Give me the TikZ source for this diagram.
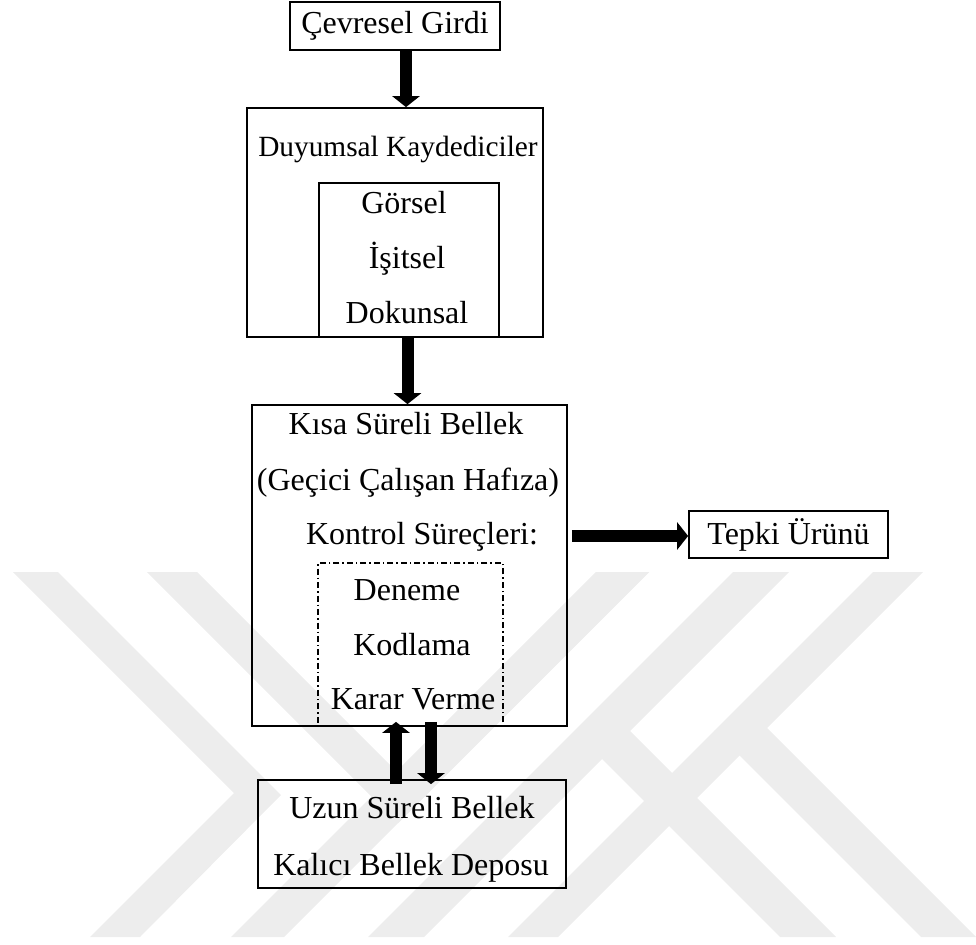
\documentclass[tikz,border=0pt]{standalone}
\usepackage{fontspec}
\setmainfont{Liberation Serif}
\usetikzlibrary{arrows.meta,calc}
\definecolor{filigran}{RGB}{237,237,237}
\tikzset{
  kutu/.style={draw,line width=1.3pt,inner sep=0pt,font=\fontsize{24}{28}\selectfont},
  yazi/.style={anchor=base,inner sep=0.75pt,font=\fontsize{24}{28}\selectfont},
  kalinok/.style={line width=9pt,-{Triangle[width=20.25pt,length=8.25pt]}},
  noktacizgi/.style={draw,line width=0.9pt,inner sep=0pt,dash pattern=on 4.5pt off 2.25pt on 1.1pt off 2.25pt},
}

\begin{document}
\begin{tikzpicture}[x=0.75pt,y=0.75pt,yscale=-1,xscale=1]
		%set diagram left start at 0, and has height of 945
		\useasboundingbox (0,0) rectangle (976,945);
		
		%Watermark
		\begin{scope}
			\clip (0,572) rectangle (976,937);
			\fill[filigran] (13,572) -- (58,572) -- (281,795) -- (140,937) -- (90,937) -- (234,793) -- cycle;
			\fill[filigran] (147,572) -- (197,572) -- (396.5,771.5) -- (596,572) -- (649,572) -- (398,823) -- cycle;
			\fill[filigran] (596,572) -- (649,572) -- (284,937) -- (231,937) -- cycle;
			\fill[filigran] (733,572) -- (789,572) -- (424,937) -- (368,937) -- cycle;
			\fill[filigran] (873,572) -- (923,572) -- (558,937) -- (508,937) -- cycle;
			\fill[filigran] (714.5,730.5) -- (767,728) -- (976,937) -- (921,937) -- cycle;
			\fill[filigran] (574,731) -- (630,731) -- (836,937) -- (780,937) -- cycle;
		\end{scope}
		
		%Shape: Rectangle
		\node[kutu,minimum width=157.5pt,minimum height=36pt] (cevre) at (395,26) {Çevresel Girdi};
		%Shape: Rectangle
		\node[kutu,minimum width=222pt,minimum height=171.75pt] (duyum) at (395,222.5) {};
		%Shape: Rectangle
		\node[kutu,minimum width=135pt,minimum height=115.5pt] (duyumic) at (409,260) {};
		%Shape: Rectangle
		\node[noktacizgi,minimum width=138.75pt,minimum height=122.25pt] (kontrol) at (410.5,644.5) {};
		%Shape: Rectangle
		\node[kutu,minimum width=236.25pt,minimum height=240.75pt] (kisa) at (409.5,565.5) {};
		%Shape: Rectangle
		\node[kutu,minimum width=149.25pt,minimum height=35.25pt] (tepki) at (788.5,534.5) {Tepki Ürünü};
		%Shape: Rectangle
		\node[kutu,minimum width=231pt,minimum height=81pt] (uzun) at (412,834) {};
		
		% Text Node
		\node[yazi,font=\fontsize{22}{26}\selectfont] (duyumbaslik) at (398,157) {Duyumsal Kaydediciler};
		% Text Node
		\node[yazi] (gorsel) at (404,214) {Görsel};
		% Text Node
		\node[yazi] (isitsel) at (407,269) {İşitsel};
		% Text Node
		\node[yazi] (dokunsal) at (407,324) {Dokunsal};
		% Text Node
		\node[yazi] (kisabaslik) at (406,435) {Kısa Süreli Bellek};
		% Text Node
		\node[yazi] (gecici) at (408,490) {(Geçici Çalışan Hafıza)};
		% Text Node
		\node[yazi] (surecler) at (422,544) {Kontrol Süreçleri:};
		% Text Node
		\node[yazi] (deneme) at (407,600) {Deneme};
		% Text Node
		\node[yazi] (kodlama) at (412,655) {Kodlama};
		% Text Node
		\node[yazi] (karar) at (413,709) {Karar Verme};
		% Text Node
		\node[yazi] (uzunbaslik) at (412,818) {Uzun Süreli Bellek};
		% Text Node
		\node[yazi] (kalici) at (411,875) {Kalıcı Bellek Deposu};
		
		%Block Arrows
		\draw[kalinok] ($(cevre.south)+(11,0)$) -- ($(duyum.north)+(11,0)$);
		\draw[kalinok] ($(duyum.south)+(12.5,0)$) -- ($(kisa.north)+(-2,0)$);
		\draw[kalinok] ($(kisa.east)+(4,-29.5)$) -- ($(tepki.west)+(0,1.5)$);
		\draw[kalinok] ($(uzun.north)+(-16,5)$) -- ($(kisa.south)+(-13.5,-5)$);
		\draw[kalinok] ($(kisa.south)+(21.5,-5)$) -- ($(uzun.north)+(19,5)$);
		
\end{tikzpicture}
\end{document}
